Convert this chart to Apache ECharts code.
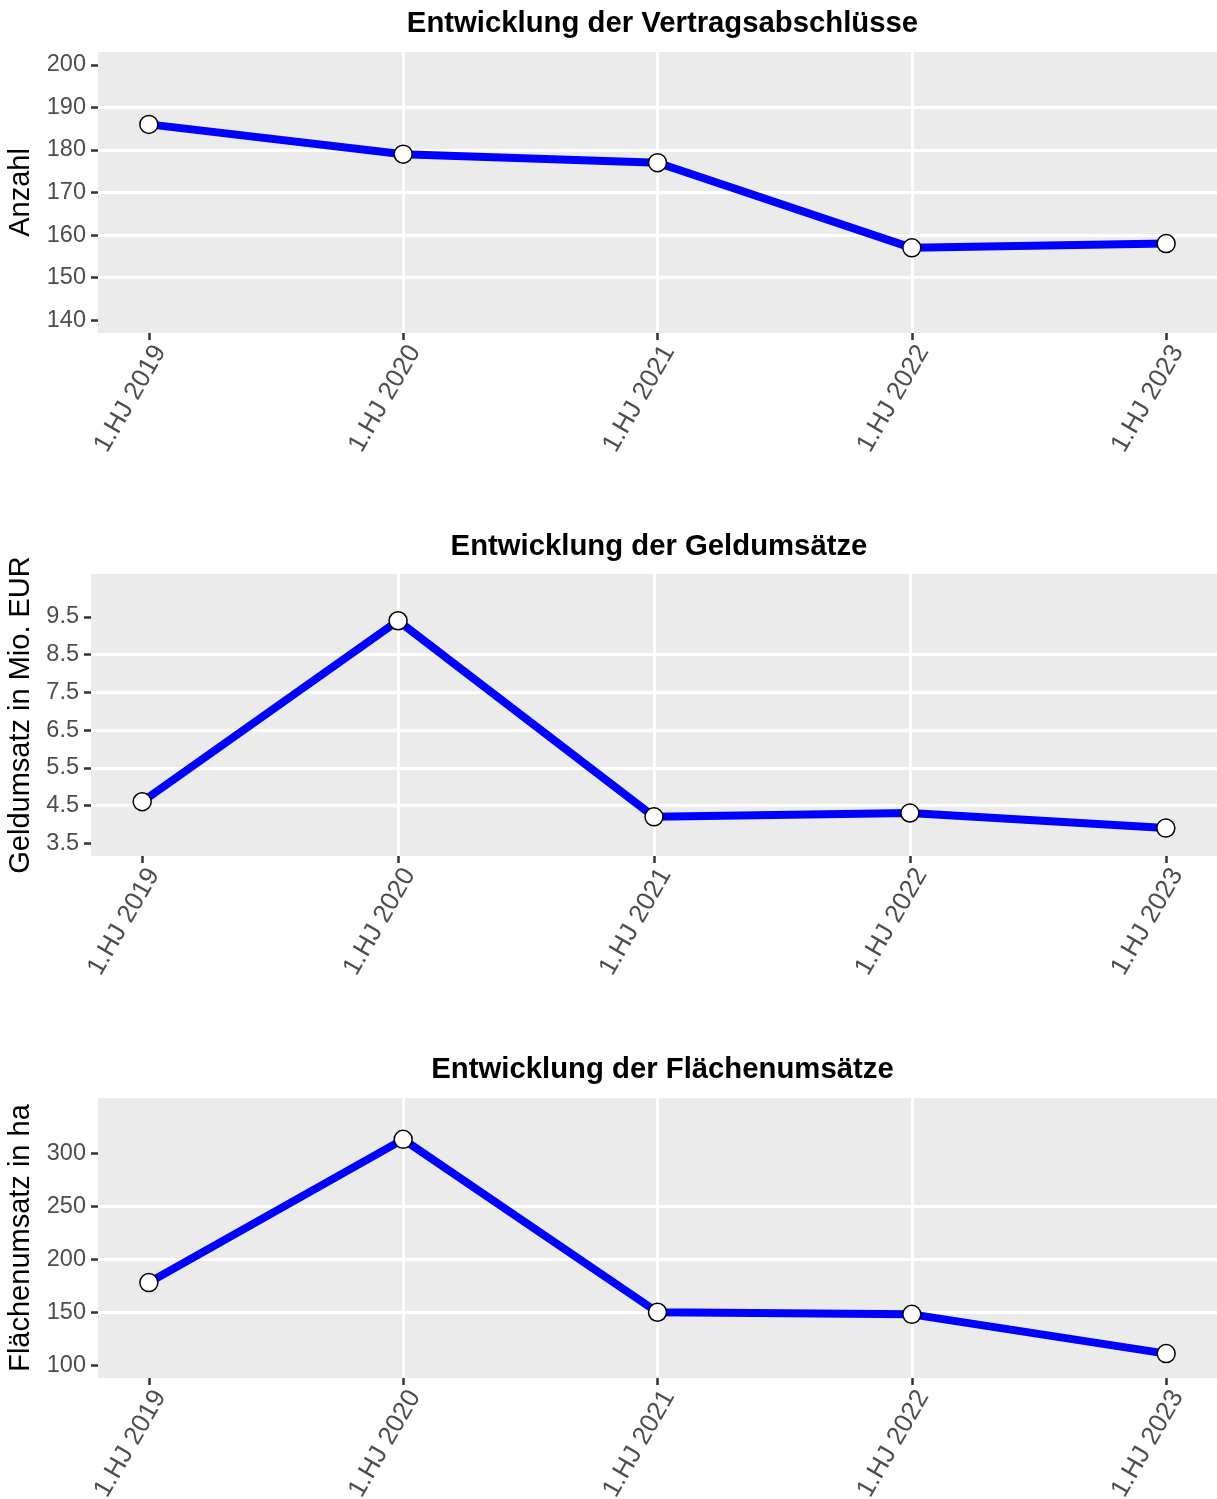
<!DOCTYPE html>
<html>
<head>
<meta charset="utf-8">
<script src="https://cdn.jsdelivr.net/npm/echarts@6/dist/echarts.min.js"></script>
<style>
  html, body { margin: 0; padding: 0; background: #fff; }
  #chart { width: 1217px; height: 1499px; }
</style>
</head>
<body>
<div id="chart"></div>
<script>
// categories (half years) and values per panel
const categories = ['1.HJ 2019', '1.HJ 2020', '1.HJ 2021', '1.HJ 2022', '1.HJ 2023'];
const vertragsabschluesse = [186, 179, 177, 157, 158];
const geldumsatz = [4.6, 9.4, 4.2, 4.3, 3.9];
const flaechenumsatz = [178, 313, 150, 148, 111];

// tick labels
const xTicks = [0, 1, 2, 3, 4];
const yTicksAnzahl = [140, 150, 160, 170, 180, 190, 200];
const yTicksGeld = [3.5, 4.5, 5.5, 6.5, 7.5, 8.5, 9.5];
const yTicksFlaeche = [100, 150, 200, 250, 300];

const FONT = "'Liberation Sans', Arial, sans-serif";

const panels = [
  { title: 'Entwicklung der Vertragsabschlüsse', yName: 'Anzahl', values: vertragsabschluesse,
    ticks: yTicksAnzahl, ymin: 137, ymax: 203, left: 98, top: 52, height: 281, titleTop: 4, nameGap: 58 },
  { title: 'Entwicklung der Geldumsätze', yName: 'Geldumsatz in Mio. EUR', values: geldumsatz,
    ticks: yTicksGeld, ymin: 3.16, ymax: 10.64, left: 91, top: 574, height: 282, titleTop: 527, nameGap: 52 },
  { title: 'Entwicklung der Flächenumsätze', yName: 'Flächenumsatz in ha', values: flaechenumsatz,
    ticks: yTicksFlaeche, ymin: 88, ymax: 352, left: 98, top: 1098, height: 280, titleTop: 1050, nameGap: 58 }
];

const chart = echarts.init(document.getElementById('chart'));

const option = {
  animation: false,
  backgroundColor: '#ffffff',
  title: panels.map(p => ({
    text: p.title,
    left: (p.left + 1217) / 2,
    top: p.titleTop,
    textAlign: 'center',
    textStyle: { fontFamily: FONT, fontSize: 29.3, fontWeight: 'bold', color: '#000' }
  })),
  grid: panels.map(p => ({
    left: p.left, right: 0, top: p.top, height: p.height,
    outerBoundsMode: 'none',
    containLabel: false,
    show: true, backgroundColor: '#EBEBEB', borderWidth: 0
  })),
  xAxis: panels.map((p, i) => ({
    type: 'value',
    gridIndex: i,
    min: -0.2,
    max: 4.2,
    axisLine: { show: false, onZero: false },
    axisTick: { show: true, length: 7, lineStyle: { color: '#333333', width: 2.5 }, customValues: xTicks },
    axisLabel: {
      customValues: xTicks,
      rotate: 60,
      margin: 8,
      verticalAlign: 'top',
      fontFamily: FONT, fontSize: 26, color: '#4D4D4D',
      formatter: v => categories[Math.round(v)]
    },
    splitLine: { show: true, showMinLine: false, showMaxLine: false, lineStyle: { color: '#ffffff', width: 2.8 } }
  })),
  yAxis: panels.map((p, i) => ({
    type: 'value',
    gridIndex: i,
    min: p.ymin,
    max: p.ymax,
    name: p.yName,
    nameLocation: 'middle',
    nameRotate: 90,
    nameGap: p.nameGap,
    nameTextStyle: { fontFamily: FONT, fontSize: 29, color: '#000' },
    axisLine: { show: false, onZero: false },
    axisTick: { show: true, length: 7, lineStyle: { color: '#333333', width: 2.5 }, customValues: p.ticks },
    axisLabel: {
      customValues: p.ticks,
      margin: 12,
      fontFamily: FONT, fontSize: 23.5, color: '#4D4D4D',
      formatter: v => String(v)
    },
    splitLine: { show: true, showMinLine: false, showMaxLine: false, lineStyle: { color: '#ffffff', width: 2.8 } }
  })),
  series: panels.map((p, i) => ({
    type: 'line',
    xAxisIndex: i,
    yAxisIndex: i,
    data: p.values.map((v, k) => [k, v]),
    symbol: 'circle',
    symbolSize: 18,
    showSymbol: true,
    clip: false,
    lineStyle: { color: '#0000FF', width: 8 },
    itemStyle: { color: '#ffffff', borderColor: '#000000', borderWidth: 1.5 },
    z: 5
  }))
};

chart.setOption(option);
</script>
</body>
</html>
